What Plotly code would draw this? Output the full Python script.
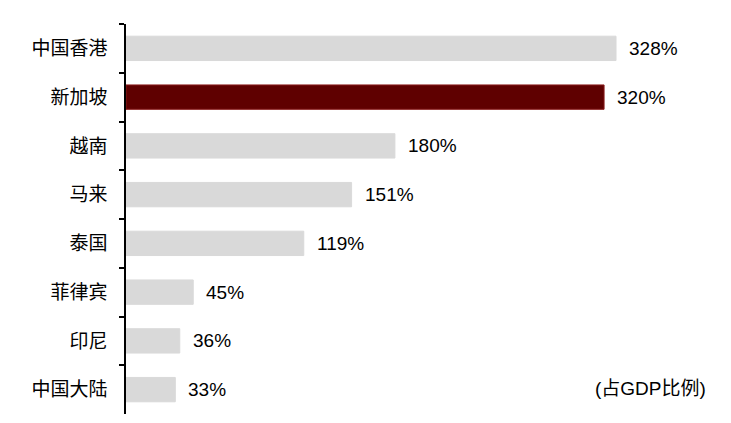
import plotly.graph_objects as go

categories = ["中国香港", "新加坡", "越南", "马来", "泰国", "菲律宾", "印尼", "中国大陆"]
values = [328, 320, 180, 151, 119, 45, 36, 33]
highlight = "新加坡"
label_text = [f"{v}%" for v in values]

GRAY = "#d9d9d9"
RED = "#5f0000"
FONT = "Liberation Sans, Arial, Noto Sans CJK SC, sans-serif"

colors = [RED if c == highlight else GRAY for c in categories]
line_colors = ["#8a1c1c" if c == highlight else GRAY for c in categories]

fig = go.Figure()
fig.add_trace(go.Bar(
    x=values, y=categories, orientation="h",
    marker=dict(color=colors, line=dict(color=line_colors, width=1)),
    width=0.5, hoverinfo="skip",
))

for c, v, t in zip(categories, values, label_text):
    fig.add_annotation(x=v, y=c, text=t, xanchor="left", yanchor="middle",
                       xshift=11, showarrow=False,
                       font=dict(family=FONT, size=19, color="#000"))

fig.add_annotation(x=0.98, y=0.066, xref="paper", yref="paper",
                   text="(占GDP比例)", xanchor="right", yanchor="middle",
                   showarrow=False, font=dict(family=FONT, size=19, color="#000"))

fig.update_layout(
    width=723, height=415,
    margin=dict(l=118, r=11, t=16, b=9, autoexpand=False),
    paper_bgcolor="white", plot_bgcolor="white",
    showlegend=False,
    font=dict(family=FONT, size=19, color="#000"),
    xaxis=dict(visible=False, range=[0, 397.6], automargin=False),
    yaxis=dict(
        categoryorder="array", categoryarray=categories, autorange="reversed",
        showline=True, linecolor="#000", linewidth=1.5,
        ticks="outside", ticklen=5, tickcolor="#000", tickwidth=1.5,
        tickson="boundaries", showgrid=False, zeroline=False,
        ticklabelstandoff=13, automargin=False,
        tickfont=dict(family=FONT, size=19, color="#000"),
    ),
)

fig.write_html("out.html")
